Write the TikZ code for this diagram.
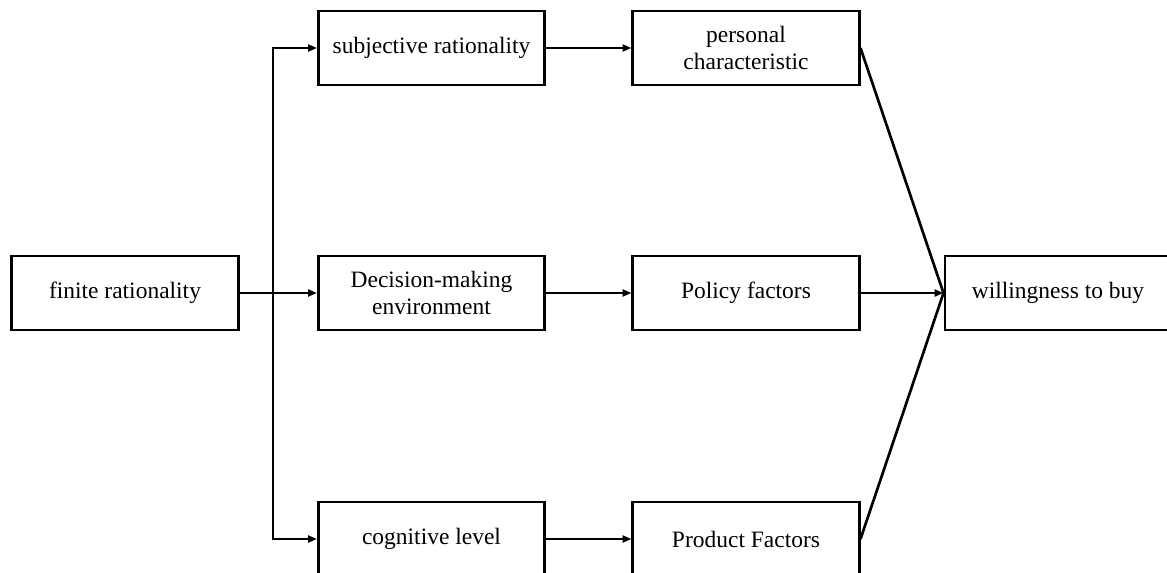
\documentclass[tikz,border=0pt]{standalone}
\usepackage{fontspec}
\setmainfont{Liberation Serif}
\usetikzlibrary{arrows.meta,positioning}

\tikzset{
	box/.style={draw,line width=2.1pt,minimum width=5.65cm,minimum height=1.85cm,align=center,inner sep=0pt,
		font=\fontsize{16.7}{19.4}\selectfont},
	arr/.style={line width=1.9pt,-{Triangle[length=2.2mm,width=1.7mm]}},
	lnk/.style={line width=1.9pt}
}

\begin{document}
\begin{tikzpicture}[x=0.025cm,y=-0.025cm]
	\clip (0,0) rectangle (1167,573);
	\useasboundingbox (0,0) rectangle (1167,573);

	\node[box] (fin) at (125,293) {finite rationality};
	\node[box] (subj) at (431.5,48) {subjective rationality};
	\node[box] (dec) at (431.5,293) {Decision-making\\environment};
	\node[box] (cog) at (431.5,539) {cognitive level};
	\node[box] (pers) at (746,48) {personal\\characteristic};
	\node[box] (pol) at (746,293) {Policy factors};
	\node[box] (prod) at (746,539) {Product Factors};
	\node[box] (will) at (1058,293) {willingness to buy};

	\coordinate (split) at (273,293);

	\draw[arr] (fin) -- (dec);
	\draw[arr] (split) |- (subj);
	\draw[arr] (split) |- (cog);

	\draw[arr] (subj) -- (pers);
	\draw[arr] (dec) -- (pol);
	\draw[arr] (cog) -- (prod);

	\draw[lnk] (pers.east) -- (will.west);
	\draw[arr] (pol) -- (will);
	\draw[lnk] (prod.east) -- (will.west);
\end{tikzpicture}
\end{document}
